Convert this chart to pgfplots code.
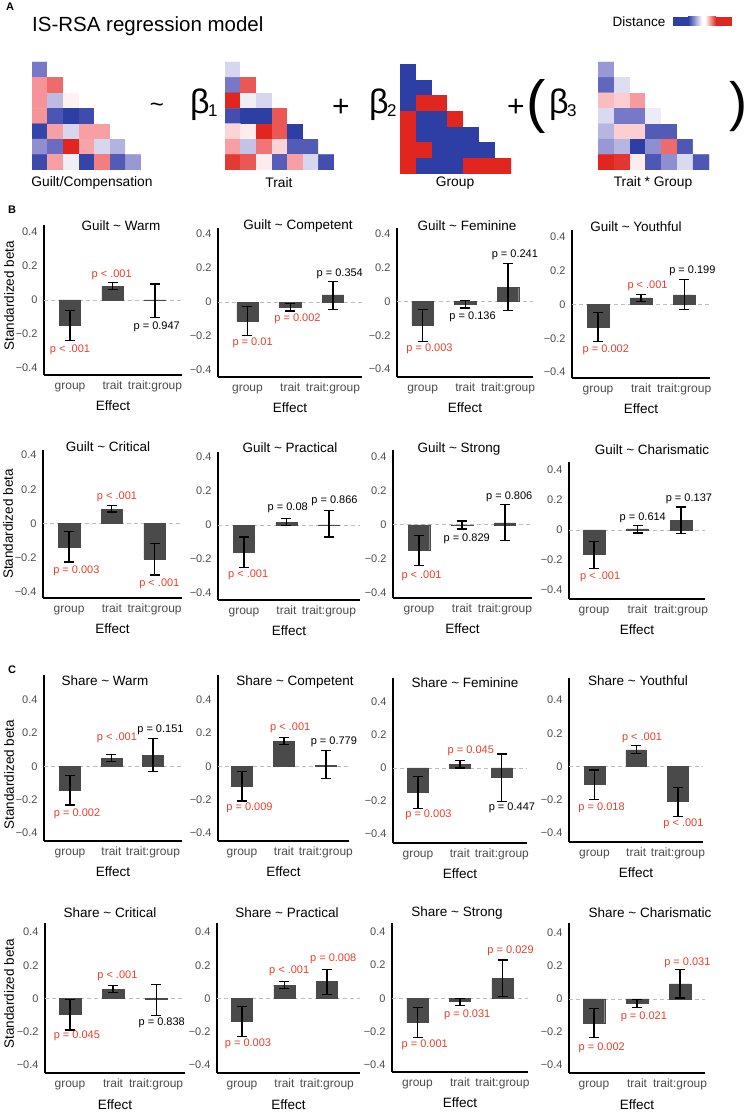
\documentclass[border=0pt]{standalone}
\usepackage{fontspec}
\setmainfont{Liberation Sans}
\usepackage{pgfplots}
\pgfplotsset{compat=1.18}
\usepackage{pgfplotstable}

\definecolor{barc}{HTML}{4A4A4A}
\definecolor{tickgray}{HTML}{4D4D4D}
\definecolor{pred}{RGB}{232,62,45}
\definecolor{zgray}{HTML}{BDBDBD}
\definecolor{cbl}{RGB}{45,62,165}
\definecolor{crd}{RGB}{224,38,30}

\pgfplotstableread{
x y lo hi
1 -0.147 -0.239 -0.063
2 0.080 0.061 0.104
3 -0.004 -0.102 0.094
}\tBa
\pgfplotstableread{
x y lo hi
1 -0.110 -0.196 -0.025
2 -0.029 -0.053 -0.010
3 0.042 -0.042 0.120
}\tBb
\pgfplotstableread{
x y lo hi
1 -0.142 -0.235 -0.049
2 -0.016 -0.039 0.008
3 0.085 -0.054 0.227
}\tBc
\pgfplotstableread{
x y lo hi
1 -0.136 -0.221 -0.049
2 0.039 0.017 0.060
3 0.056 -0.031 0.146
}\tBd
\pgfplotstableread{
x y lo hi
1 -0.136 -0.225 -0.045
2 0.085 0.068 0.107
3 -0.206 -0.301 -0.118
}\tBe
\pgfplotstableread{
x y lo hi
1 -0.161 -0.249 -0.069
2 0.016 0.000 0.041
3 0.002 -0.069 0.084
}\tBf
\pgfplotstableread{
x y lo hi
1 -0.149 -0.239 -0.063
2 -0.003 -0.024 0.022
3 0.012 -0.092 0.120
}\tBg
\pgfplotstableread{
x y lo hi
1 -0.164 -0.258 -0.076
2 0.007 -0.020 0.029
3 0.064 -0.024 0.153
}\tBh
\pgfplotstableread{
x y lo hi
1 -0.141 -0.231 -0.052
2 0.050 0.028 0.072
3 0.068 -0.030 0.169
}\tCa
\pgfplotstableread{
x y lo hi
1 -0.117 -0.207 -0.030
2 0.151 0.131 0.175
3 0.006 -0.072 0.095
}\tCb
\pgfplotstableread{
x y lo hi
1 -0.147 -0.244 -0.052
2 0.020 0.000 0.044
3 -0.056 -0.204 0.085
}\tCc
\pgfplotstableread{
x y lo hi
1 -0.107 -0.197 -0.020
2 0.100 0.080 0.125
3 -0.211 -0.302 -0.125
}\tCd
\pgfplotstableread{
x y lo hi
1 -0.094 -0.190 -0.004
2 0.054 0.034 0.076
3 -0.006 -0.104 0.084
}\tCe
\pgfplotstableread{
x y lo hi
1 -0.136 -0.230 -0.046
2 0.080 0.060 0.104
3 0.104 0.026 0.176
}\tCf
\pgfplotstableread{
x y lo hi
1 -0.146 -0.236 -0.056
2 -0.020 -0.046 0.000
3 0.120 0.010 0.230
}\tCg
\pgfplotstableread{
x y lo hi
1 -0.148 -0.234 -0.058
2 -0.028 -0.050 -0.004
3 0.092 0.006 0.180
}\tCh

\pgfplotsset{
  bpanel/.style={
    scale only axis, anchor=south west, clip=false,
    axis x line*=bottom, axis y line*=left,
    axis line style={line width=1.1pt, black, -},
    xtick={1,2,3}, xticklabels={group,trait,trait:group},
    ytick={-0.4,-0.2,0,0.2,0.4}, yticklabels={−0.4,−0.2,0,0.2,0.4},
    major tick length=0pt,
    xticklabel style={font=\fontsize{12}{12}\selectfont, text=tickgray, anchor=base, yshift=-15pt},
    yticklabel style={font=\fontsize{11}{11}\selectfont, text=tickgray, anchor=east, xshift=-3pt},
    xlabel={Effect},
    xlabel style={font=\fontsize{13.5}{13.5}\selectfont, at={(axis description cs:0.5,0)}, anchor=base, yshift=-36pt},
    ylabel style={font=\fontsize{13.5}{13.5}\selectfont, anchor=center},
  },
  mstyle/.style={
    scale only axis, anchor=south west, hide axis,
    xmin=0.5, xmax=7.5, ymin=0.5, ymax=7.5, y dir=reverse,
    colormap={bwr}{rgb255=(45,62,165) rgb255=(120,120,200) rgb255=(255,255,255) rgb255=(245,135,140) rgb255=(224,38,30)},
    point meta min=-1, point meta max=1,
  },
}
\tikzset{
  pr/.style={font=\fontsize{11}{11}\selectfont, text=pred, inner sep=0pt},
  pk/.style={font=\fontsize{11}{11}\selectfont, text=black, inner sep=0pt},
  ttl/.style={font=\fontsize{13.5}{13.5}\selectfont, inner sep=0pt},
  zline/.style={zgray, dash pattern=on 4pt off 3pt, line width=0.8pt},
}

\newcommand{\panel}[3]{%
\begin{axis}[bpanel,#1]
\draw[zline] ({rel axis cs:0,0} |- {axis cs:1,0}) -- ({rel axis cs:1,0} |- {axis cs:1,0});
\addplot[ybar, bar width=0.5, fill=barc, draw=barc, line width=0.4pt,
  error bars/.cd, y dir=both, y explicit,
  error bar style={draw=black, line width=1.25pt},
  error mark options={draw=black, line width=1.25pt, mark size=5pt, rotate=90}]
  table[x=x, y=y, y error plus expr=\thisrow{hi}-\thisrow{y}, y error minus expr=\thisrow{y}-\thisrow{lo}] {#2};
#3
\end{axis}}

\begin{document}
\begin{tikzpicture}
\path[use as bounding box] (0,0) rectangle (749pt,1113pt);

% ---------------- Panel A ----------------
\node[anchor=center, font=\fontsize{11}{11}\selectfont\bfseries, inner sep=0pt] at (10pt,1106pt) {A};
\node[anchor=west, font=\fontsize{20.5}{20.5}\selectfont, inner sep=0pt] at (32pt,1087pt) {IS-RSA regression model};
\node[anchor=center, font=\fontsize{13.5}{13.5}\selectfont, inner sep=0pt] at (639pt,1091pt) {Distance};
\fill[cbl] (673pt,1087pt) rectangle (688pt,1096pt);
\shade[left color=cbl, right color=white] (688pt,1087pt) rectangle (702pt,1096pt);
\fill[white] (702pt,1087pt) rectangle (705pt,1096pt);
\shade[left color=white, right color=crd] (705pt,1087pt) rectangle (716pt,1096pt);
\fill[crd] (716pt,1087pt) rectangle (732pt,1096pt);

\begin{axis}[mstyle, at={(32pt,943pt)}, width=109pt, height=108pt]
\addplot[matrix plot*, mesh/cols=7, point meta=explicit] table[row sep=\\, meta=c]{
x y c\\
1 1 -0.5\\ 2 1 0\\ 3 1 0\\ 4 1 0\\ 5 1 0\\ 6 1 0\\ 7 1 0\\
1 2 0.45\\ 2 2 0.65\\ 3 2 0\\ 4 2 0\\ 5 2 0\\ 6 2 0\\ 7 2 0\\
1 3 0.45\\ 2 3 -0.25\\ 3 3 0.06\\ 4 3 0\\ 5 3 0\\ 6 3 0\\ 7 3 0\\
1 4 0.45\\ 2 4 -0.8\\ 3 4 -1\\ 4 4 -0.88\\ 5 4 0\\ 6 4 0\\ 7 4 0\\
1 5 -0.95\\ 2 5 0.4\\ 3 5 -0.15\\ 4 5 0.4\\ 5 5 0.4\\ 6 5 0\\ 7 5 0\\
1 6 -0.42\\ 2 6 -0.6\\ 3 6 1\\ 4 6 0.38\\ 5 6 -0.15\\ 6 6 -0.28\\ 7 6 0\\
1 7 -0.9\\ 2 7 0.4\\ 3 7 -0.06\\ 4 7 -0.95\\ 5 7 0.55\\ 6 7 -0.75\\ 7 7 -0.38\\
};
\end{axis}
\begin{axis}[mstyle, at={(225pt,943pt)}, width=109pt, height=108pt]
\addplot[matrix plot*, mesh/cols=7, point meta=explicit] table[row sep=\\, meta=c]{
x y c\\
1 1 -0.15\\ 2 1 0\\ 3 1 0\\ 4 1 0\\ 5 1 0\\ 6 1 0\\ 7 1 0\\
1 2 -0.5\\ 2 2 0.75\\ 3 2 0\\ 4 2 0\\ 5 2 0\\ 6 2 0\\ 7 2 0\\
1 3 1\\ 2 3 -0.06\\ 3 3 -0.15\\ 4 3 0\\ 5 3 0\\ 6 3 0\\ 7 3 0\\
1 4 -0.85\\ 2 4 -1\\ 3 4 -1\\ 4 4 0.75\\ 5 4 0\\ 6 4 0\\ 7 4 0\\
1 5 0.18\\ 2 5 0.08\\ 3 5 1\\ 4 5 0.75\\ 5 5 -1\\ 6 5 0\\ 7 5 0\\
1 6 0.4\\ 2 6 -0.22\\ 3 6 0.6\\ 4 6 0.18\\ 5 6 -0.75\\ 6 6 -0.75\\ 7 6 0\\
1 7 0.9\\ 2 7 0.75\\ 3 7 0.08\\ 4 7 -0.72\\ 5 7 0.4\\ 6 7 -0.15\\ 7 7 -0.85\\
};
\end{axis}
\begin{axis}[mstyle, at={(400pt,939pt)}, width=111pt, height=110pt]
\addplot[matrix plot*, mesh/cols=7, point meta=explicit] table[row sep=\\, meta=c]{
x y c\\
1 1 -1\\ 2 1 0\\ 3 1 0\\ 4 1 0\\ 5 1 0\\ 6 1 0\\ 7 1 0\\
1 2 -1\\ 2 2 -1\\ 3 2 0\\ 4 2 0\\ 5 2 0\\ 6 2 0\\ 7 2 0\\
1 3 -1\\ 2 3 1\\ 3 3 1\\ 4 3 0\\ 5 3 0\\ 6 3 0\\ 7 3 0\\
1 4 1\\ 2 4 -1\\ 3 4 -1\\ 4 4 1\\ 5 4 0\\ 6 4 0\\ 7 4 0\\
1 5 1\\ 2 5 -1\\ 3 5 -1\\ 4 5 -1\\ 5 5 -1\\ 6 5 0\\ 7 5 0\\
1 6 1\\ 2 6 1\\ 3 6 -1\\ 4 6 -1\\ 5 6 -1\\ 6 6 -1\\ 7 6 0\\
1 7 1\\ 2 7 -1\\ 3 7 -1\\ 4 7 -1\\ 5 7 1\\ 6 7 1\\ 7 7 1\\
};
\end{axis}
\begin{axis}[mstyle, at={(598pt,943pt)}, width=111pt, height=108pt]
\addplot[matrix plot*, mesh/cols=7, point meta=explicit] table[row sep=\\, meta=c]{
x y c\\
1 1 -0.38\\ 2 1 0\\ 3 1 0\\ 4 1 0\\ 5 1 0\\ 6 1 0\\ 7 1 0\\
1 2 -0.65\\ 2 2 -0.12\\ 3 2 0\\ 4 2 0\\ 5 2 0\\ 6 2 0\\ 7 2 0\\
1 3 0.28\\ 2 3 0.2\\ 3 3 0.42\\ 4 3 0\\ 5 3 0\\ 6 3 0\\ 7 3 0\\
1 4 -0.14\\ 2 4 -0.5\\ 3 4 -0.5\\ 4 4 -0.07\\ 5 4 0\\ 6 4 0\\ 7 4 0\\
1 5 -0.27\\ 2 5 0.2\\ 3 5 0.2\\ 4 5 -0.75\\ 5 5 -0.75\\ 6 5 0\\ 7 5 0\\
1 6 -0.38\\ 2 6 -0.27\\ 3 6 -1\\ 4 6 -0.42\\ 5 6 0.65\\ 6 6 -0.78\\ 7 6 0\\
1 7 1\\ 2 7 0.92\\ 3 7 0.08\\ 4 7 -0.78\\ 5 7 -0.42\\ 6 7 -0.14\\ 7 7 -0.78\\
};
\end{axis}

\node[font=\fontsize{13.8}{13.8}\selectfont, inner sep=0pt] at (92pt,930pt) {Guilt/Compensation};
\node[font=\fontsize{13.8}{13.8}\selectfont, inner sep=0pt] at (279pt,930pt) {Trait};
\node[font=\fontsize{13.8}{13.8}\selectfont, inner sep=0pt] at (455pt,930pt) {Group};
\node[font=\fontsize{13.8}{13.8}\selectfont, inner sep=0pt] at (653pt,930pt) {Trait * Group};

\node[font=\fontsize{24}{24}\selectfont, inner sep=0pt] at (157pt,1005pt) {\textasciitilde};
\node[anchor=base west, font=\fontsize{34}{34}\selectfont, inner sep=0pt] at (190pt,999pt) {β};
\node[anchor=base west, font=\fontsize{17}{17}\selectfont, inner sep=0pt] at (208pt,996pt) {1};
\node[font=\fontsize{30}{30}\selectfont, inner sep=0pt] at (341pt,1005pt) {+};
\node[anchor=base west, font=\fontsize{34}{34}\selectfont, inner sep=0pt] at (369pt,999pt) {β};
\node[anchor=base west, font=\fontsize{17}{17}\selectfont, inner sep=0pt] at (387pt,996pt) {2};
\node[font=\fontsize{30}{30}\selectfont, inner sep=0pt] at (516pt,1005pt) {+};
\node[font=\fontsize{58}{58}\selectfont, inner sep=0pt] at (536pt,1006pt) {(};
\node[anchor=base west, font=\fontsize{34}{34}\selectfont, inner sep=0pt] at (549pt,999pt) {β};
\node[anchor=base west, font=\fontsize{17}{17}\selectfont, inner sep=0pt] at (567pt,996pt) {3};
\node[font=\fontsize{54}{54}\selectfont, inner sep=0pt] at (738pt,1006pt) {)};

% ---------------- Panel B ----------------
\node[font=\fontsize{11}{11}\selectfont\bfseries, inner sep=0pt] at (12pt,903pt) {B};

\panel{at={(44pt,738pt)}, width=138pt, height=150pt, xmin=0.388, xmax=3.635, ymin=-0.441, ymax=0.441,
  ylabel={Standardized beta}, ylabel style={at={(axis description cs:-0.254,0.527)}}}{\tBa}{
  \node[pr] at (axis cs:1.0,-0.294) {p < .001};
  \node[pr] at (axis cs:1.98,0.147) {p < .001};
  \node[pk] at (axis cs:3.04,-0.157) {p = 0.947};}
\panel{at={(218pt,736pt)}, width=144pt, height=149pt, xmin=0.31, xmax=3.68, ymin=-0.44, ymax=0.435}{\tBb}{
  \node[pr] at (axis cs:1.12,-0.242) {p = 0.01};
  \node[pr] at (axis cs:2.17,-0.101) {p = 0.002};
  \node[pk] at (axis cs:3.16,0.168) {p = 0.354};}
\panel{at={(397pt,736pt)}, width=136pt, height=149pt, xmin=0.40, xmax=3.585, ymin=-0.447, ymax=0.435}{\tBc}{
  \node[pr] at (axis cs:1.16,-0.282) {p = 0.003};
  \node[pk] at (axis cs:2.17,-0.089) {p = 0.136};
  \node[pk] at (axis cs:3.16,0.276) {p = 0.241};}
\panel{at={(572pt,735pt)}, width=138pt, height=148pt, xmin=0.395, xmax=3.6, ymin=-0.435, ymax=0.44}{\tBd}{
  \node[pr] at (axis cs:1.18,-0.268) {p = 0.002};
  \node[pr] at (axis cs:2.15,0.111) {p < .001};
  \node[pk] at (axis cs:3.19,0.198) {p = 0.199};}

\panel{at={(43pt,515pt)}, width=139pt, height=148pt, xmin=0.39, xmax=3.64, ymin=-0.435, ymax=0.43,
  ylabel={Standardized beta}, ylabel style={at={(axis description cs:-0.252,0.5)}}}{\tBe}{
  \node[pr] at (axis cs:1.17,-0.274) {p = 0.003};
  \node[pr] at (axis cs:2.12,0.159) {p < .001};
  \node[pr] at (axis cs:3.11,-0.35) {p < .001};}
\panel{at={(218pt,513pt)}, width=142pt, height=148pt, xmin=0.39, xmax=3.73, ymin=-0.44, ymax=0.43}{\tBf}{
  \node[pr] at (axis cs:1.1,-0.292) {p < .001};
  \node[pk] at (axis cs:2.03,0.1) {p = 0.08};
  \node[pk] at (axis cs:3.13,0.143) {p = 0.866};}
\panel{at={(393pt,515pt)}, width=139pt, height=148pt, xmin=0.395, xmax=3.63, ymin=-0.43, ymax=0.44}{\tBg}{
  \node[pr] at (axis cs:1.06,-0.298) {p < .001};
  \node[pk] at (axis cs:2.11,-0.082) {p = 0.829};
  \node[pk] at (axis cs:3.1,0.163) {p = 0.806};}
\panel{at={(569pt,514pt)}, width=136pt, height=137pt, xmin=0.425, xmax=3.55, ymin=-0.46, ymax=0.453}{\tBh}{
  \node[pr] at (axis cs:1.14,-0.309) {p < .001};
  \node[pk] at (axis cs:2.12,0.084) {p = 0.614};
  \node[pk] at (axis cs:3.18,0.207) {p = 0.137};}

% ---------------- Panel C ----------------
\node[font=\fontsize{11}{11}\selectfont\bfseries, inner sep=0pt] at (12pt,443pt) {C};

\panel{at={(44pt,272pt)}, width=138pt, height=166pt, xmin=0.373, xmax=3.7, ymin=-0.448, ymax=0.55,
  ylabel={Standardized beta}, ylabel style={at={(axis description cs:-0.254,0.40)}}}{\tCa}{
  \node[pr] at (axis cs:1.17,-0.282) {p = 0.002};
  \node[pr] at (axis cs:2.13,0.175) {p < .001};
  \node[pk] at (axis cs:3.18,0.219) {p = 0.151};}
\panel{at={(218pt,272pt)}, width=131pt, height=166pt, xmin=0.43, xmax=3.55, ymin=-0.448, ymax=0.55}{\tCb}{
  \node[pr] at (axis cs:1.18,-0.247) {p = 0.009};
  \node[pr] at (axis cs:2.15,0.231) {p < .001};
  \node[pk] at (axis cs:3.19,0.151) {p = 0.779};}
\panel{at={(393pt,270pt)}, width=134pt, height=165pt, xmin=0.405, xmax=3.6, ymin=-0.455, ymax=0.545}{\tCc}{
  \node[pr] at (axis cs:1.25,-0.282) {p = 0.003};
  \node[pr] at (axis cs:2.26,0.105) {p = 0.045};
  \node[pk] at (axis cs:3.24,-0.244) {p = 0.447};}
\panel{at={(569pt,271pt)}, width=134pt, height=164pt, xmin=0.39, xmax=3.6, ymin=-0.454, ymax=0.533}{\tCd}{
  \node[pr] at (axis cs:1.17,-0.247) {p = 0.018};
  \node[pr] at (axis cs:2.14,0.175) {p < .001};
  \node[pr] at (axis cs:3.13,-0.347) {p < .001};}

\panel{at={(45pt,40pt)}, width=140pt, height=150pt, xmin=0.42, xmax=3.67, ymin=-0.448, ymax=0.454,
  ylabel={Standardized beta}, ylabel style={at={(axis description cs:-0.257,0.527)}}}{\tCe}{
  \node[pr] at (axis cs:1.16,-0.226) {p = 0.045};
  \node[pr] at (axis cs:2.1,0.136) {p < .001};
  \node[pk] at (axis cs:3.13,-0.146) {p = 0.838};}
\panel{at={(217pt,40pt)}, width=143pt, height=150pt, xmin=0.41, xmax=3.78, ymin=-0.448, ymax=0.454}{\tCf}{
  \node[pr] at (axis cs:1.14,-0.27) {p = 0.003};
  \node[pr] at (axis cs:2.11,0.164) {p < .001};
  \node[pr] at (axis cs:3.15,0.236) {p = 0.008};}
\panel{at={(392pt,41pt)}, width=136pt, height=149pt, xmin=0.4, xmax=3.6, ymin=-0.445, ymax=0.454}{\tCg}{
  \node[pr] at (axis cs:1.17,-0.282) {p = 0.001};
  \node[pr] at (axis cs:2.17,-0.1) {p = 0.031};
  \node[pr] at (axis cs:3.19,0.284) {p = 0.029};}
\panel{at={(569pt,40pt)}, width=136pt, height=150pt, xmin=0.42, xmax=3.58, ymin=-0.448, ymax=0.46}{\tCh}{
  \node[pr] at (axis cs:1.18,-0.294) {p = 0.002};
  \node[pr] at (axis cs:2.16,-0.11) {p = 0.021};
  \node[pr] at (axis cs:3.17,0.222) {p = 0.031};}

% ---------------- titles ----------------
\node[ttl] at (121pt,887pt) {Guilt \textasciitilde{} Warm};
\node[ttl] at (298pt,887pt) {Guilt \textasciitilde{} Competent};
\node[ttl] at (467pt,887pt) {Guilt \textasciitilde{} Feminine};
\node[ttl] at (636pt,886pt) {Guilt \textasciitilde{} Youthful};
\node[ttl] at (108pt,666pt) {Guilt \textasciitilde{} Critical};
\node[ttl] at (290pt,665pt) {Guilt \textasciitilde{} Practical};
\node[ttl] at (459pt,664pt) {Guilt \textasciitilde{} Strong};
\node[ttl] at (652pt,663pt) {Guilt \textasciitilde{} Charismatic};
\node[ttl] at (105pt,432pt) {Share \textasciitilde{} Warm};
\node[ttl] at (295pt,431pt) {Share \textasciitilde{} Competent};
\node[ttl] at (465pt,430pt) {Share \textasciitilde{} Feminine};
\node[ttl] at (638pt,432pt) {Share \textasciitilde{} Youthful};
\node[ttl] at (110pt,200pt) {Share \textasciitilde{} Critical};
\node[ttl] at (287pt,200pt) {Share \textasciitilde{} Practical};
\node[ttl] at (457pt,200pt) {Share \textasciitilde{} Strong};
\node[ttl] at (650pt,200pt) {Share \textasciitilde{} Charismatic};
\end{tikzpicture}
\end{document}
